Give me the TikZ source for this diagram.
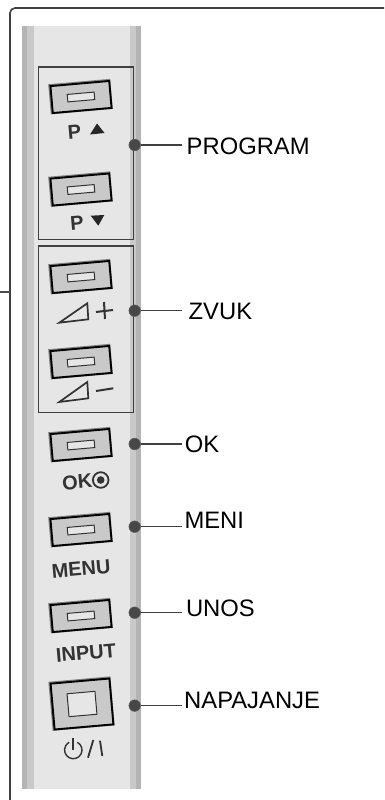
\documentclass[tikz,border=0pt]{standalone}
\usepackage{fontspec}
\setmainfont{Liberation Sans}
\definecolor{bandouter}{HTML}{B4B4B4}
\definecolor{bandmid}{HTML}{C9C9C9}
\definecolor{bandface}{HTML}{E6E6E6}
\definecolor{inkgray}{HTML}{333333}
\tikzset{
  btn/.style={draw=black, fill=bandmid, line width=1.9pt, rotate=5, inner sep=0pt, minimum width=59pt, minimum height=27pt},
  btnback/.style={btn, draw=black!50, line width=3.2pt},
  slot/.style={draw=inkgray, fill=bandface, line width=1pt, rotate=5, inner sep=0pt, minimum width=27pt, minimum height=7.5pt},
  caption/.style={text=inkgray, font=\bfseries\fontsize{20}{20}\selectfont, rotate=5, inner sep=0pt},
  callout/.style={font=\fontsize{23.8}{24}\selectfont, anchor=west, inner ysep=0pt, text height=17pt, text depth=0pt},
  spot/.style={circle, fill=inkgray!90, draw=black!65, line width=.6pt, inner sep=0pt, minimum size=11.5pt},
  glyph/.style={draw=inkgray, line width=1.7pt}
}
\begin{document}
\begin{tikzpicture}[x=1pt,y=-1pt]
\useasboundingbox (0,0) rectangle (384,800);
\draw [black!75, line width=1.6pt, rounded corners=5pt] (384,8) -- (10,8) -- (10,800);
\draw [black!70, line width=1.3pt] (0,292) -- (10,292);
\fill [bandouter] (22,26) rectangle (141,789);
\fill [bandmid] (27,26) rectangle (136,789);
\fill [bandface] (34,26) rectangle (130,789);
\draw [black!75, line width=1.2pt] (38.5,67) rectangle (133.5,239.5);
\draw [black!75, line width=1.2pt] (38.5,246) rectangle (133.5,412.7);
\foreach \n/\y in {1/97,2/189.5,3/277,4/362,5/445,6/530,7/616} {
  \node [btnback] at (80.5,\y-.4) {};
  \node (btn\n) [btn] at (81,\y) {};
  \node (slot\n) [slot] at (btn\n.center) {};
}
\node [btnback, minimum height=46pt] at (81.5,703.6) {};
\node (btn8) [btn, minimum height=46pt] at (82,704) {};
\node (slot8) [slot, minimum width=28pt, minimum height=23pt] at (btn8.center) {};
\node (capa) [caption] at (74.5,132) {P};
\node (capb) [caption] at (77,223) {P};
\node (capc) [caption] at (77.3,482) {OK};
\node (capd) [caption] at (81,569) {MENU};
\node (cape) [caption] at (86,653) {INPUT};
\fill [black!85] (97,123.5) -- (90,134.5) -- (104.5,133) -- cycle;
\fill [black!85] (90.7,215.7) -- (104.3,215) -- (98.3,225.7) -- cycle;
\draw [glyph, line join=miter] (59.3,322.7) -- (87.3,303.3) -- (88.3,319.3) -- cycle;
\draw [glyph, line join=miter] (59.3,402) -- (87.3,382) -- (88.3,398.3) -- cycle;
\draw [glyph, line width=2pt] (96,312) -- (113,310) (104,302) -- (105,319);
\draw [glyph, line width=2pt] (96,391) -- (113.3,388.3);
\draw [inkgray, line width=1.8pt] (100.7,480) circle (7.8pt);
\fill [inkgray] (100.7,480) circle (3.8pt);
\draw [glyph, line width=1.4pt] (73.3,750) ++(62:8.7pt) arc (62:-242:8.7pt);
\draw [glyph, line width=1.4pt] (73,738.3) -- (73,750);
\draw [glyph, line width=1.8pt] (88,757.7) -- (93.3,740) (100,740.7) -- (102.3,756);
\foreach \n/\y/\ly/\s/\t in {1/145/145.5/4.5/PROGRAM,2/310.7/310.5/6.5/ZVUK,3/444/443.5/2.7/OK,4/526.7/520/2.3/MENI,5/612.7/608/3.8/UNOS,6/705.6/699.7/2/NAPAJANJE} {
  \node (dot\n) [spot] at (134.7,\y) {};
  \node (lab\n) [callout, inner xsep=\s pt] at (182,\ly) {\t};
  \draw [black!75, line width=1.2pt] (dot\n) -- (dot\n -| lab\n.west);
}
\end{tikzpicture}
\end{document}
